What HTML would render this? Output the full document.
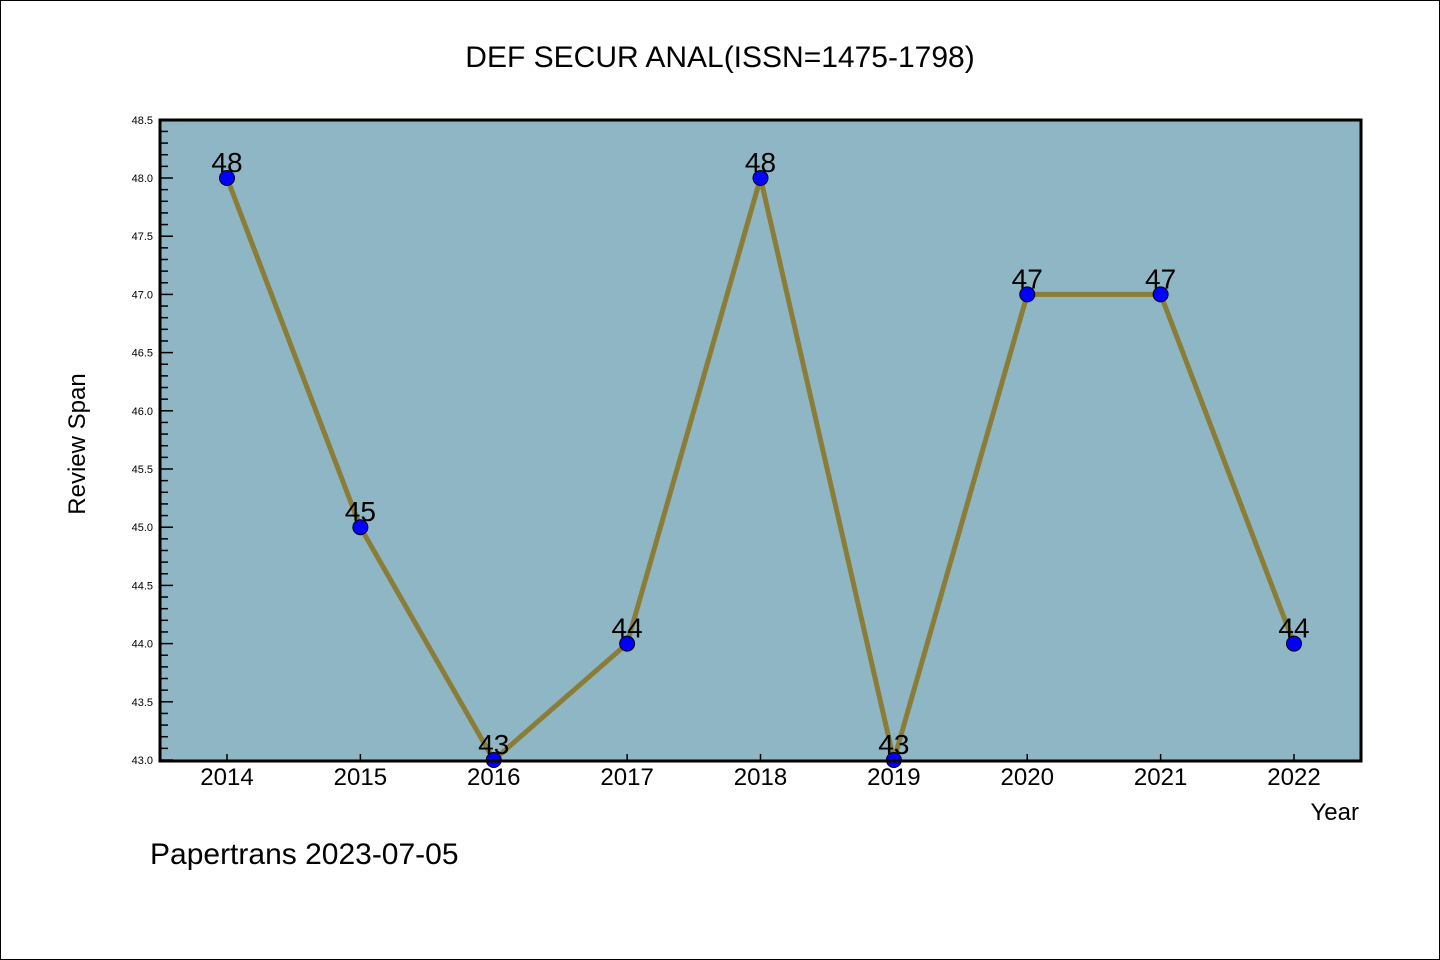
<!DOCTYPE html>
<html><head><meta charset="utf-8"><style>
html,body{margin:0;padding:0;background:#fff}
svg{display:block;font-family:"WenQuanYi Zen Hei","Liberation Sans",sans-serif}
</style></head><body>
<svg id="c" width="1440" height="960">
<rect x="0.5" y="0.5" width="1439" height="959" fill="#fff" stroke="#000"/>
<text x="720" y="67" font-size="30" text-anchor="middle">DEF SECUR ANAL(ISSN=1475-1798)</text>
<rect x="160" y="120" width="1201" height="641" fill="#8fb6c4"/>
<g id="ticks"></g>
<g id="series"></g>
<rect x="160" y="120" width="1201" height="641" fill="none" stroke="#000" stroke-width="3"/>
<text x="85" y="444" font-size="24" text-anchor="middle" transform="rotate(-90 85 444)">Review Span</text>
<text x="1359" y="820" font-size="24" text-anchor="end">Year</text>
<text x="150" y="864" font-size="30">Papertrans 2023-07-05</text>
</svg>
<script>
const years=["2014","2015","2016","2017","2018","2019","2020","2021","2022"];
const values=[48,45,43,44,48,43,47,47,44];
const yTicks=["43.0","43.5","44.0","44.5","45.0","45.5","46.0","46.5","47.0","47.5","48.0","48.5"];
const NS="http://www.w3.org/2000/svg";
const x=i=>227+i*(1294-227)/8;
const y=v=>760-(v-43)*(760-178)/5;
function mk(t,a,p){const e=document.createElementNS(NS,t);for(const k in a)e.setAttribute(k,a[k]);p.appendChild(e);return e;}
const tg=document.getElementById('ticks'),sg=document.getElementById('series');
for(let k=0;k<=55;k++){const v=43+k*0.1;const major=k%5===0;
 const l=mk('line',{x1:160,x2:160+(major?13:8),y1:y(v),y2:y(v),stroke:'#000','stroke-width':1.5},tg);
 }
yTicks.forEach(s=>{const t=mk('text',{x:153,y:y(+s)+4,'font-size':11,'text-anchor':'end'},tg);t.textContent=s;
 });
years.forEach((s,i)=>{const l=mk('line',{x1:x(i),x2:x(i),y1:760,y2:754,stroke:'#000','stroke-width':1.5},tg);
 
 const t=mk('text',{x:x(i),y:785,'font-size':24,'text-anchor':'middle'},tg);t.textContent=s;
 });
const pl=mk('polyline',{points:values.map((v,i)=>x(i)+','+y(v)).join(' '),fill:'none',stroke:'#8b7d37','stroke-width':5},sg);

values.forEach((v,i)=>{const c=mk('circle',{cx:x(i),cy:y(v),r:7.5,fill:'#0000ff',stroke:'#000','stroke-width':1},sg);
 
 const t=mk('text',{x:x(i),y:y(v)-6,'font-size':28,'text-anchor':'middle'},sg);t.textContent=v;
 });
</script>
</body></html>
